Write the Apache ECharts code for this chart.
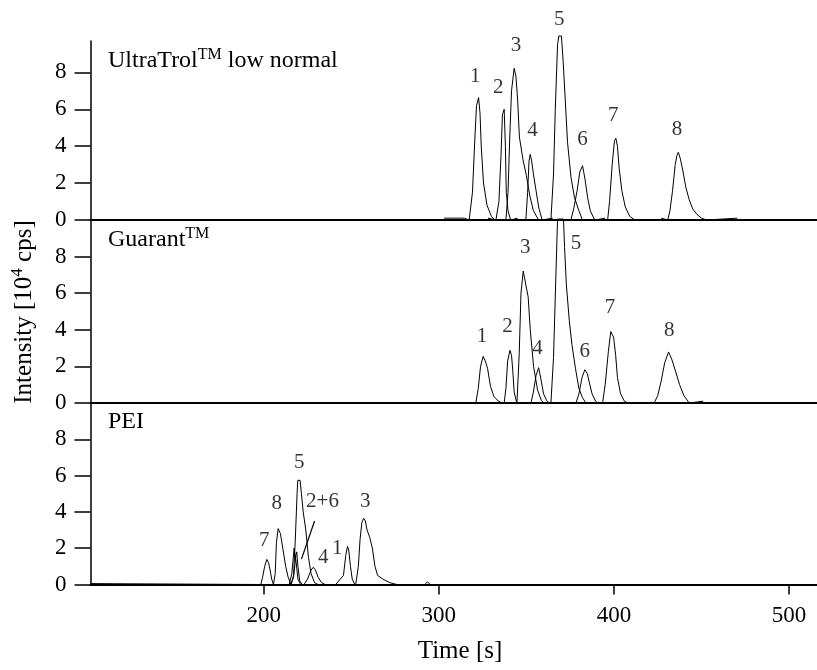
<!DOCTYPE html>
<html><head><meta charset="utf-8">
<script src="https://cdn.jsdelivr.net/npm/echarts@6/dist/echarts.min.js"></script>
<style>html,body{margin:0;padding:0;background:#fff}#c{width:817px;height:670px}</style>
</head><body><div id="c"></div>
<script>
// ---- UltraTrol low normal (top panel) : [time s, intensity 1e4 cps]
var ultra1 = [[303,0.1],[314.5,0.1],[317.3,0],[319.2,1.5],[320.6,4.5],[321.5,6.2],[322.7,6.63],[323.5,5.8],[324.2,4.0],[325.5,2.0],[327.5,0.8],[330,0.2],[332,0]];
var ultra2 = [[328,0.1],[332.6,0],[334.3,1],[335.5,3.5],[336.3,5.7],[337.3,6.0],[338,4],[338.5,1.5],[339.5,0.5],[341,0],[345,0.1]];
var ultra3 = [[338.3,0],[339.5,1.5],[340.5,4.5],[341.5,7],[343,8.22],[344,7.8],[345,6.5],[346,4.5],[348,3.3],[350,2.4],[352,1.3],[354,0.5],[357,0]];
var ultra4 = [[349.7,0],[350.7,1.5],[351.5,3.2],[352.2,3.56],[353,3.2],[354,2.5],[355.5,1.6],[357,0.7],[359,0],[365,0.1]];
var ultra5 = [[364,0],[365.5,2.5],[366.5,6],[367.8,9.5],[368.5,9.97],[370,9.97],[371,8.6],[372.2,6.5],[373.5,4.2],[375.5,2.3],[377.5,1.2],[380,0.5],[382,0]];
var ultra6 = [[375.4,0],[377,0.6],[379,1.6],[380.5,2.6],[382.1,2.94],[383.5,2.2],[385,1.2],[386.5,0.5],[389,0],[395,0.1]];
var ultra7 = [[396.4,0],[397.5,1],[399,3],[400.3,4.3],[401.1,4.43],[402,4.0],[403,2.8],[404.5,1.6],[406.5,0.7],[409,0.2],[412,0]];
var ultra8 = [[427,0.1],[430.7,0],[432,0.5],[433.5,1.6],[435,3.0],[436,3.5],[436.8,3.67],[438,3.3],[439.5,2.6],[441,1.8],[443,1.1],[445,0.6],[447.5,0.3],[450,0.1],[453,0],[470.5,0.1]];
var ultraLabels = [[320.8,7.77,'1'],[333.9,7.19,'2'],[344,9.45,'3'],[353.5,4.84,'4'],[368.8,10.88,'5'],[382.1,4.34,'6'],[399.6,5.69,'7'],[436,4.88,'8']];

// ---- Guarant (middle panel)
var guar1 = [[318,0],[321.1,0],[322.5,0.8],[323.8,2.0],[325.3,2.55],[326.5,2.3],[327.8,1.9],[329.5,0.9],[331.5,0.35],[334,0.1],[336,0]];
var guar2 = [[337.3,0],[338.3,0.8],[339.3,2.3],[340.6,2.88],[341.5,2.6],[342.2,1.8],[343,0.6],[344.5,0]];
var guar3 = [[344.6,0],[345.9,2.7],[346.9,6.0],[348.2,7.21],[349.3,7.21],[351,5.8],[352.2,4.0],[354.1,2.0],[356.4,0.7],[358.5,0.15],[360,0]];
var guar4 = [[352.6,0],[354,0.6],[355.5,1.5],[357,1.93],[358.3,1.3],[359.8,0.5],[361.5,0.15],[363,0]];
var guar5 = [[364,0],[365.5,2.5],[366.7,6.5],[367.8,10.05],[371.2,10.05],[371.8,8.5],[372.8,6.5],[374.5,4.5],[376,3.2],[378,1.9],[380,0.8],[382,0.3],[384,0]];
var guar6 = [[378.3,0],[380,0.5],[381.8,1.4],[383.4,1.82],[384.8,1.6],[386,1.1],[387.5,0.5],[389.5,0.1],[391,0]];
var guar7 = [[393.5,0],[395,1.0],[396.8,2.8],[398.2,3.9],[398.7,4.0],[399.8,3.6],[401,2.6],[402,1.4],[403.8,0.5],[406,0.1],[408,0]];
var guar8 = [[423,0],[425,0.4],[427,1.2],[429,2.2],[431.2,2.79],[433,2.4],[435,1.8],[437.5,1.0],[440,0.4],[443,0],[451,0.1]];
var guarLabels = [[324.6,3.61,'1'],[339.2,4.19,'2'],[349.3,8.49,'3'],[356.4,2.97,'4'],[378.3,8.71,'5'],[383.4,2.79,'6'],[397.7,5.21,'7'],[431.6,3.97,'8']];

// ---- PEI (bottom panel)
var pei7 = [[101,0.05],[198.3,0],[199.3,0.4],[200.5,1.0],[201.7,1.38],[202.7,1.2],[203.6,0.8],[204.5,0.3],[205.5,0]];
var pei8 = [[205.5,0],[206.5,0.6],[207.2,2.3],[208.2,3.08],[209.5,2.8],[211,1.9],[212.5,1.0],[213.9,0.4],[215.5,0]];
var pei5 = [[215.5,0],[217,0.5],[218,2.5],[219,5.0],[219.4,5.74],[220.7,5.74],[221.5,5.0],[222.5,4.0],[224,3.0],[225.5,1.5],[227,0.6],[229,0.1],[231,0]];
var pei2 = [[214.5,0],[216,0.6],[217.3,2.0],[217.8,2.1],[218.5,1.2],[219.5,0.3],[221,0]];
var pei6 = [[215.5,0],[217,0.4],[218.3,1.6],[218.8,1.8],[219.5,1.0],[220.5,0.2],[222,0]];
var pei4 = [[223,0],[225,0.3],[227,0.8],[228.3,0.95],[229.5,0.8],[231,0.4],[233,0.1],[235,0]];
var pei1 = [[241,0],[245.5,0.5],[246.8,1.6],[247.8,2.1],[248.5,1.9],[249.5,1.0],[250.5,0.3],[252,0]];
var pei3 = [[252.5,0],[254,1.0],[255,2.5],[256,3.4],[257,3.65],[258,3.5],[259,3.0],[260.5,2.6],[262,2.0],[263.5,1.0],[265,0.5],[268,0.3],[272,0.1],[276,0],[292,0],[293.5,0.15],[295,0]];
var peiLabels = [[200.2,2.41,'7'],[207.4,4.46,'8'],[220.2,6.75,'5'],[233.5,4.6,'2+6'],[234,1.5,'4'],[242,2.0,'1'],[258,4.6,'3']];
var peiLeader = [[229,3.5],[221.5,1.4]];

var panelNames = ['UltraTrol', 'Guarant', 'PEI'];
var xTicks = [200, 300, 400, 500];
var yTicks = [0, 2, 4, 6, 8];

var FONT = 'Liberation Serif';
var chart = echarts.init(document.getElementById('c'), null, {renderer: 'canvas'});

var grids = [
  {left: 90.5, right: 0, top: 41, height: 179},
  {left: 90.5, right: 0, top: 220, height: 183},
  {left: 90.5, right: 0, top: 403, height: 181.5}
];
var yMax = [9.7, 10, 10];

var xAxes = grids.map(function (g, i) {
  var last = i === 2;
  return {
    type: 'value', gridIndex: i, min: 101, max: 516,
    axisLine: {show: true, onZero: false, lineStyle: {color: '#000', width: 2}},
    axisTick: {show: last, customValues: xTicks, length: 10, inside: false, lineStyle: {color: '#000', width: 1.5}},
    axisLabel: {show: last, customValues: xTicks, color: '#000', fontFamily: FONT, fontSize: 23, margin: 20},
    splitLine: {show: false}
  };
});
var yAxes = grids.map(function (g, i) {
  return {
    type: 'value', gridIndex: i, min: 0, max: yMax[i],
    axisLine: {show: true, lineStyle: {color: '#000', width: 1.5}},
    axisTick: {show: true, customValues: yTicks, length: 16, lineStyle: {color: '#000', width: 1.5}},
    axisLabel: {show: true, customValues: yTicks, color: '#000', fontFamily: FONT, fontSize: 23, margin: 24},
    splitLine: {show: false}
  };
});

var series = [];
function addTraces(list, idx) {
  list.forEach(function (d) {
    series.push({type: 'line', xAxisIndex: idx, yAxisIndex: idx, data: d, symbol: 'none', clip: false,
      lineStyle: {color: '#000', width: 1}, silent: true, animation: false});
  });
}
addTraces([ultra1, ultra2, ultra3, ultra4, ultra5, ultra6, ultra7, ultra8], 0);
addTraces([guar1, guar2, guar3, guar4, guar5, guar6, guar7, guar8], 1);
addTraces([pei7, pei8, pei5, pei2, pei6, pei4, pei1, pei3], 2);
series.push({type: 'line', xAxisIndex: 2, yAxisIndex: 2, data: peiLeader, symbol: 'none', clip: false,
  lineStyle: {color: '#000', width: 1.2}, animation: false});

function addLabels(list, idx) {
  series.push({type: 'scatter', xAxisIndex: idx, yAxisIndex: idx, symbolSize: 0, data: list, animation: false, clip: false,
    label: {show: true, position: 'inside', formatter: function (p) { return p.value[2]; },
      color: '#000', fontFamily: FONT, fontSize: 21}});
}
addLabels(ultraLabels, 0);
addLabels(guarLabels, 1);
addLabels(peiLabels, 2);

var rich = {
  a: {fontFamily: FONT, fontSize: 24, color: '#000', lineHeight: 28},
  s: {fontFamily: FONT, fontSize: 16, color: '#000', lineHeight: 28, verticalAlign: 'top', padding: [0, 0, 10, 0]}
};
var richT = {
  a: {fontFamily: FONT, fontSize: 25, color: '#000', lineHeight: 30},
  s: {fontFamily: FONT, fontSize: 17, color: '#000', lineHeight: 30, verticalAlign: 'top', padding: [0, 0, 10, 0]}
};

chart.setOption({
  animation: false,
  backgroundColor: '#fff',
  grid: grids,
  xAxis: xAxes,
  yAxis: yAxes,
  series: series,
  graphic: [
    {type: 'text', left: 108, top: 47, style: {text: '{a|UltraTrol}{s|TM}{a| low normal}', rich: rich}},
    {type: 'text', left: 108, top: 226, style: {text: '{a|Guarant}{s|TM}', rich: rich}},
    {type: 'text', left: 108, top: 410, style: {text: '{a|PEI}', rich: rich}},
    {type: 'text', x: 24, y: 312, rotation: Math.PI / 2,
      style: {text: '{a|Intensity [10}{s|4}{a| cps]}', rich: richT, align: 'center', verticalAlign: 'middle'}},
    {type: 'text', x: 460, y: 651,
      style: {text: 'Time [s]', fontFamily: FONT, fontSize: 25, fill: '#000', align: 'center', verticalAlign: 'middle'}}
  ]
});
</script></body></html>
